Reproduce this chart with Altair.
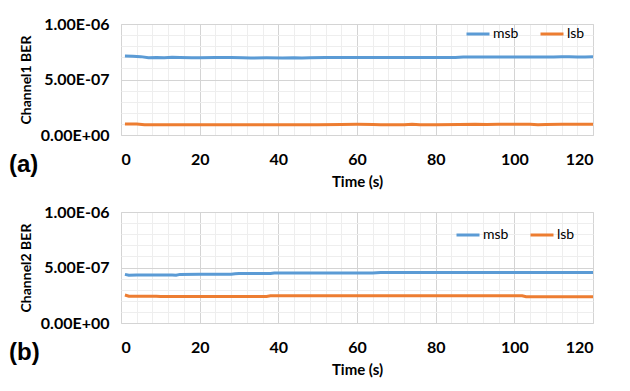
import altair as alt
import pandas as pd

# ---- data (BER values) ----
ch1_msb_t = [1, 3, 5, 7, 9, 11, 13, 15, 18, 20, 24, 28, 31, 33, 37, 41, 44, 46, 48, 52, 58, 64, 70, 76, 82, 85, 87, 92, 98, 104, 110, 112, 114, 116, 118, 120]
ch1_msb_v = [7.12, 7.10, 7.06, 6.97, 6.99, 6.96, 7.00, 6.99, 6.97, 6.95, 6.98, 6.99, 6.96, 6.94, 6.95, 6.94, 6.97, 6.94, 6.97, 6.98, 6.98, 6.98, 6.98, 6.98, 6.98, 6.99, 7.02, 7.02, 7.02, 7.02, 7.03, 7.05, 7.06, 7.02, 7.02, 7.04]

ch1_lsb_t = [1, 4, 6, 10, 20, 30, 40, 50, 56, 60, 64, 66, 72, 74, 76, 80, 86, 90, 93, 96, 100, 104, 106, 108, 112, 120]
ch1_lsb_v = [1.00, 0.99, 0.93, 0.93, 0.93, 0.93, 0.93, 0.93, 0.94, 0.96, 0.95, 0.93, 0.93, 0.96, 0.93, 0.93, 0.94, 0.96, 0.94, 0.96, 0.96, 0.96, 0.92, 0.95, 0.96, 0.96]

ch2_msb_t = [1, 2, 4, 8, 13, 14, 15, 20, 28, 29, 30, 38, 39, 40, 60, 64, 66, 80, 100, 120]
ch2_msb_v = [4.38, 4.30, 4.32, 4.32, 4.33, 4.30, 4.38, 4.39, 4.39, 4.44, 4.45, 4.46, 4.50, 4.51, 4.51, 4.51, 4.54, 4.54, 4.54, 4.54]

ch2_lsb_t = [1, 2, 4, 8, 9, 10, 20, 30, 37, 38, 40, 60, 80, 100, 102, 103, 110, 120]
ch2_lsb_v = [2.52, 2.41, 2.40, 2.40, 2.42, 2.39, 2.39, 2.39, 2.39, 2.45, 2.46, 2.46, 2.46, 2.46, 2.46, 2.37, 2.37, 2.37]

series_names = ["msb", "lsb"]
series_colors = ["#5B9BD5", "#ED7D31"]
x_grid_values = list(range(0, 121, 4))
y_grid_values = [i * 1e-7 for i in range(11)]

FONT = "Lato"


def make_df(msb_t, msb_v, lsb_t, lsb_v):
    rows = []
    for t, v in zip(msb_t, msb_v):
        rows.append({"Time": t, "BER": v * 1e-7, "Series": "msb"})
    for t, v in zip(lsb_t, lsb_v):
        rows.append({"Time": t, "BER": v * 1e-7, "Series": "lsb"})
    return pd.DataFrame(rows)


y_label_expr = (
    "round(datum.value*1e7) == 0 ? '0.00E+00' : "
    "round(datum.value*1e7) == 5 ? '5.00E-07' : "
    "round(datum.value*1e7) == 10 ? '1.00E-06' : ''"
)


def panel(df, ytitle, tag, legend_x, legend_y):
    base = alt.Chart(df)
    lines = base.mark_line(strokeWidth=3, clip=True).encode(
        x=alt.X(
            "Time:Q",
            scale=alt.Scale(domain=[0, 120], nice=False),
            axis=alt.Axis(
                title="Time (s)",
                values=x_grid_values,
                labelExpr="datum.value % 20 === 0 ? datum.label : ''",
                ticks=False,
                domain=False,
                grid=True,
                gridColor=alt.condition("datum.value % 20 === 0", alt.value("#d4d4d4"), alt.value("#eeeeee")),
                gridWidth=1,
                labelFont=FONT,
                labelFontWeight="bold",
                labelFontSize=16,
                labelColor="#000000",
                labelPadding=16,
                titleFont=FONT,
                titleFontWeight="bold",
                titleFontSize=15,
                titleColor="#000000",
                titlePadding=7,
            ),
        ),
        y=alt.Y(
            "BER:Q",
            scale=alt.Scale(domain=[0, 1e-6], nice=False),
            axis=alt.Axis(
                title=ytitle,
                values=y_grid_values,
                labelExpr=y_label_expr,
                ticks=False,
                domain=False,
                grid=True,
                gridColor=alt.condition("round(datum.value*1e7) % 5 === 0", alt.value("#d4d4d4"), alt.value("#eeeeee")),
                gridWidth=1,
                labelFont=FONT,
                labelFontWeight="bold",
                labelFontSize=16,
                labelColor="#000000",
                labelPadding=12,
                titleFont=FONT,
                titleFontWeight="bold",
                titleFontSize=14,
                titleColor="#000000",
                titlePadding=7,
            ),
        ),
        color=alt.Color(
            "Series:N",
            scale=alt.Scale(domain=series_names, range=series_colors),
            sort=series_names,
            legend=alt.Legend(
                title=None,
                orient="none",
                legendX=legend_x,
                legendY=legend_y,
                direction="horizontal",
                symbolType="stroke",
                symbolSize=529,
                symbolStrokeWidth=3,
                labelFont=FONT,
                labelFontSize=14,
                labelColor="#000000",
                labelOffset=2,
                columnPadding=15,
            ),
        ),
        detail="Series:N",
    )
    label = alt.Chart(pd.DataFrame({"tag": [tag]})).mark_text(
        font="Liberation Sans", fontWeight="bold", fontSize=24, align="left", baseline="middle", color="#000000"
    ).encode(text="tag:N", x=alt.value(-112), y=alt.value(141))
    return alt.layer(lines, label).properties(width=472, height=111)


df1 = make_df(ch1_msb_t, ch1_msb_v, ch1_lsb_t, ch1_lsb_v)
df2 = make_df(ch2_msb_t, ch2_msb_v, ch2_lsb_t, ch2_lsb_v)

p1 = panel(df1, "Channel1 BER", "(a)", 344, -3)
p2 = panel(df2, "Channel2 BER", "(b)", 334, 10)

chart = (
    alt.vconcat(p1, p2, spacing=13)
    .resolve_scale(color="independent")
    .resolve_legend(color="independent")
    .properties(padding={"left": 0, "top": 7, "right": 5, "bottom": 5}, background="#ffffff")
    .configure_view(stroke="#d9d9d9", strokeWidth=1)
)

chart.save("out.html", embed_options={"renderer": "svg", "actions": False})
